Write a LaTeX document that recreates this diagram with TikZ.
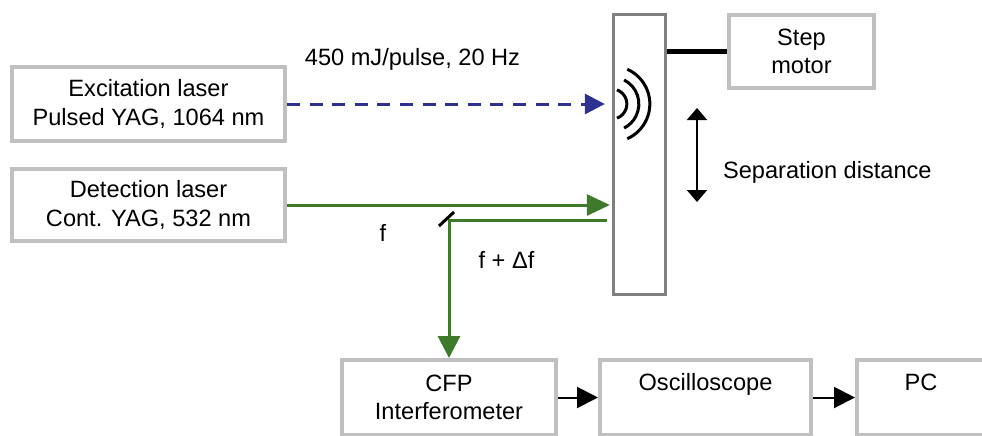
\documentclass[tikz,border=0pt]{standalone}
\usepackage{fontspec}
\setmainfont{Liberation Sans}
\usetikzlibrary{arrows.meta, calc}

\definecolor{boxgray}{RGB}{192,192,192}
\definecolor{plategray}{RGB}{128,128,128}
\definecolor{pumpblue}{RGB}{46,49,146}
\definecolor{probegreen}{RGB}{61,122,42}

\tikzset{
  devbox/.style={draw=boxgray, line width=2pt, align=center, inner sep=0pt},
  beam/.style={line width=1.5pt, -{Triangle[length=10.5pt, width=10.5pt]}},
}

\begin{document}
\begin{tikzpicture}[x=0.5pt, y=-0.5pt, font=\fontsize{11.8}{14.3}\selectfont]
  \useasboundingbox (0,0) rectangle (982,435);
  % lasers
  \node[devbox, minimum width=136.5pt, minimum height=37pt] (excit) at (148.5,104) {Excitation laser\\Pulsed YAG, 1064 nm};
  \node[devbox, minimum width=136.5pt, minimum height=36pt] (detect) at (148.5,205) {Detection laser\\Cont. YAG, 532 nm};
  % sample plate and step motor
  \node[draw=plategray, line width=1.65pt, minimum width=26pt, minimum height=140pt, inner sep=0pt] (plate) at (639.5,154.5) {};
  \node[devbox, minimum width=72.5pt, minimum height=36.5pt] (motor) at (801.5,51.5) {Step\\motor};
  \draw[line width=2.2pt] (plate.east |- motor.west) -- (motor.west);
  % detection chain
  \node[devbox, minimum width=107pt, minimum height=37.5pt] (cfp) at (449,397.5) {CFP\\Interferometer};
  \node[devbox, minimum width=105.5pt, minimum height=37.5pt, text height=9pt, text depth=16.5pt] (scope) at (705.5,397.5) {Oscilloscope};
  \node[devbox, minimum width=64pt, minimum height=37.5pt, text height=9pt, text depth=16.5pt] (pc) at (921,397.5) {PC};
  \draw[line width=1pt, -{Triangle[length=10.5pt, width=10.5pt]}] (cfp) -- (scope);
  \draw[line width=1pt, -{Triangle[length=10.5pt, width=10.5pt]}] (scope) -- (pc);

  % excitation beam and ultrasound
  \coordinate (hit) at (excit.east -| plate.west);
  \draw[pumpblue, beam, -{Triangle[length=10pt, width=10pt]}, dash pattern=on 6.5pt off 4.8pt, shorten >=3.5pt] (excit.east) -- (hit);
  \node[anchor=base] (rate) at (412.5,65) {450 mJ/pulse, 20 Hz};
  \draw[line width=1.5pt] ($(hit)+(-70:15)$) arc[start angle=-70, end angle=70, radius=15];
  \draw[line width=1.5pt] ($(hit)+(-63:27)$) arc[start angle=-63, end angle=63, radius=27];
  \draw[line width=1.5pt] ($(hit)+(-66:38)$) arc[start angle=-66, end angle=66, radius=38];

  % detection beam
  \coordinate (probe) at (detect.east -| plate.west);
  \coordinate (back) at ($(probe)+(-5,15)$);
  \coordinate (split) at (back -| cfp.north);
  \draw[probegreen, beam, -{Triangle[length=11.5pt, width=10.5pt]}, shorten >=1pt] (detect.east) -- (probe);
  \draw[probegreen, beam, -{Triangle[length=11pt, width=11pt]}] (back) -- (split) -- (cfp.north);
  \draw[line width=1.5pt] ($(split)+(-10,6)$) -- ($(split)+(5,-8)$);
  \node[anchor=base] (fin) at (383,241) {f};
  \node[anchor=base] (fout) at (506.5,268) {f + Δf};

  % separation
  \coordinate (septop) at (697,108);
  \coordinate (sepbot) at (697,202);
  \draw[line width=1pt, {Triangle[length=6pt, width=10pt]}-{Triangle[length=6pt, width=10pt]}] (septop) -- (sepbot);
  \node[anchor=base west] (seplabel) at (716,178) {Separation distance};
\end{tikzpicture}
\end{document}
